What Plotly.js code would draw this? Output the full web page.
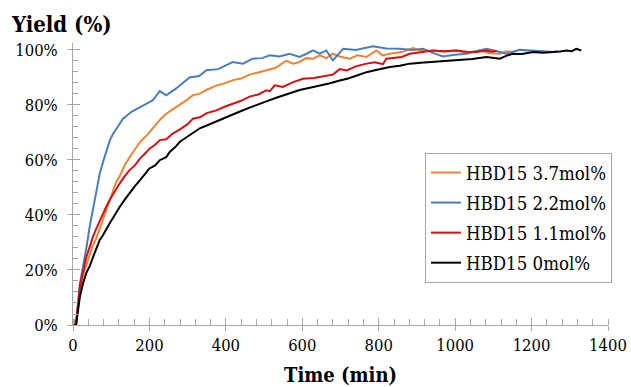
<!DOCTYPE html>
<html>
<head>
<meta charset="utf-8">
<script src="https://cdn.plot.ly/plotly-3.0.1.min.js"></script>
<style>html,body{margin:0;padding:0;background:#fff;}#chart{width:631px;height:387px;}</style>
</head>
<body>
<div id="chart"></div>
<script>
const seriesNames = ["HBD15 3.7mol%", "HBD15 2.2mol%", "HBD15 1.1mol%", "HBD15 0mol%"];
const tOrange = [0,4,8,18,26,35,44,52,61,70,78,87,96,105,113,122,135,148,162,175,190,200,215,230,244,260,279,300,314,332,350,375,400,419,440,462,485,506,530,558,576,593,610,628,646,663,680,700,724,745,768,794,810,829,860,890,915,942,970,1003,1030,1064,1090,1117,1135,1151];
const yOrange = [0,2,0.5,12,18,22,26,29,31.5,35,38,41.5,45,48.5,52,54,58,61,64,66.5,68.5,70,72.5,75,76.8,78.3,80,82,83.5,84.1,85.5,87,88,89,89.6,91,91.8,92.6,93.5,96,95,95.6,97,96.8,98,97,98.6,97.5,96.8,98,97.4,99.8,98,98.6,99.2,100.7,99.5,99.8,99.3,99.8,99,99.8,98.8,98.6,99.5,99.2];
const tBlue = [0,8,18,26,35,44,52,61,70,78,87,96,105,122,131,153,175,200,209,227,244,270,305,330,349,380,418,445,470,495,515,540,567,593,610,628,646,663,680,707,740,785,820,855,890,916,940,968,1000,1030,1055,1082,1110,1134,1169,1204,1230,1256,1268];
const yBlue = [0,0,15,21,28,36,42,48,55,59,63,67,69.5,73,75,77.5,79,81,81.7,85,83.5,86,90,90.5,92.6,93,95.6,95,96.8,97,98,97.6,98.6,97.4,98.5,99.8,98.6,99.8,96.2,100.4,100,101.3,100.5,100.4,100,100.4,99,97.6,98.2,98.6,99.5,100.4,99.5,98.6,100,99.8,99.5,99.2,99.5];
const tRed = [0,8,18,26,35,44,52,61,70,78,87,96,105,113,122,135,148,162,175,190,200,215,227,244,260,279,300,314,332,350,375,400,419,440,462,485,506,515,528,549,576,602,630,646,663,680,698,716,740,768,790,811,820,840,860,881,900,920,942,970,1003,1030,1056,1080,1095,1108];
const yRed = [0,0.5,14,19,24.8,28.5,32,35,38,40,43,45.4,47.5,49.5,51.4,54,56.3,58,60.5,62.5,64.1,65.5,67.2,67.5,69.5,71,73,75,75.5,77,78,79.5,80.5,81.5,83,83.8,85.3,85,87.1,86.5,88.3,89.5,89.8,90.1,90.5,91,93,92.5,94,95,95.5,94.8,96.8,97.2,97.4,98.6,98.9,99.3,99.8,99.5,99.8,99.3,99.2,99.8,99.3,99.6];
const tBlack = [0,8,18,26,35,44,52,61,70,78,87,96,105,113,122,135,148,162,175,190,200,215,227,244,253,270,279,300,315,332,350,375,400,419,440,462,485,506,530,550,576,593,620,646,670,698,720,745,768,790,810,829,855,881,910,942,975,1012,1045,1082,1100,1117,1135,1151,1175,1204,1230,1256,1275,1291,1305,1317,1330];
const yBlack = [0,0,10.3,15,19,21.5,24.5,28,30.9,32.5,35,37,39,41,42.9,45.5,48,50.5,52.6,55,56.9,58,59.9,61,62.9,65,66.5,68.5,70,71.5,72.5,74,75.5,76.8,77.8,79,80.3,81.3,82.5,83.4,84.5,85.4,86.2,87,87.8,88.9,89.6,90.8,91.9,92.6,93.2,93.8,94.2,95,95.3,95.6,95.8,96.2,96.7,97.4,97.2,96.8,97.9,98.6,98.5,99.2,99,99.2,99.4,99.8,99.5,100.4,99.8];
const xTicks = [0,200,400,600,800,1000,1200,1400];
const yTicks = [0,20,40,60,80,100];
const yTickLabels = ["0%","20%","40%","60%","80%","100%"];
const colors = ["#EE8433", "#4A7EBB", "#D40F14", "#000000"];
const font = "DejaVu Serif Condensed, DejaVu Serif";

const xs = [tOrange, tBlue, tRed, tBlack];
const ys = [yOrange, yBlue, yRed, yBlack];
const traces = seriesNames.map((n, i) => ({
  type: "scatter", mode: "lines", name: n, x: xs[i], y: ys[i],
  line: {color: colors[i], width: 2}, legendgroup: "g" + i
}));
traces.push({type:"scatter", mode:"lines", x:[0], y:[0], xaxis:"x2", yaxis:"y2", showlegend:false, hoverinfo:"skip", line:{width:0}});

const axisGray = "#A6A6A6";
const layout = {
  width: 631, height: 387,
  margin: {l: 73, r: 23, t: 43, b: 62},
  paper_bgcolor: "#fff", plot_bgcolor: "#fff",
  font: {family: font, color: "#000", size: 16.5},
  showlegend: true,
  title: {text: "<b>Yield (%)</b>", font: {family: font, size: 22, color: "#000"},
          xref: "container", yref: "container", x: 12/631, xanchor: "left", y: 1 - 24/387, yanchor: "middle"},
  xaxis: {
    range: [0, 1400], tickvals: xTicks, ticktext: xTicks.map(String),
    showline: true, linecolor: axisGray, linewidth: 1, showgrid: false, zeroline: false,
    ticks: "outside", ticklen: 5, tickcolor: axisGray, tickwidth: 1,
    minor: {dtick: 40, ticks: "inside", ticklen: 6, tickcolor: axisGray, showgrid: false},
    tickfont: {family: font, size: 16.5, color: "#000"},
    title: {text: "<b>Time (min)</b>", font: {family: font, size: 20, color: "#000"}, standoff: 14}
  },
  yaxis: {
    range: [0, 102.5], tickvals: yTicks, ticktext: yTickLabels,
    showline: true, linecolor: axisGray, linewidth: 1, showgrid: false, zeroline: false,
    ticks: "outside", ticklen: 5, tickcolor: axisGray, tickwidth: 1,
    minor: {dtick: 4, ticks: "inside", ticklen: 5, tickcolor: axisGray, showgrid: false},
    tickfont: {family: font, size: 16.5, color: "#000"},
    ticklabelstandoff: 6
  },
  xaxis2: {overlaying: "x", range: [0, 1400], tickvals: xTicks, showticklabels: false, showline: false,
           showgrid: false, zeroline: false, ticks: "inside", ticklen: 7, tickcolor: axisGray, tickwidth: 1},
  yaxis2: {overlaying: "y", range: [0, 102.5], tickvals: yTicks, showticklabels: false, showline: false,
           showgrid: false, zeroline: false, ticks: "inside", ticklen: 7, tickcolor: axisGray, tickwidth: 1},
  legend: {
    x: (425 - 73) / 535, xanchor: "left", y: 1 - (153 - 43) / 282, yanchor: "top",
    bordercolor: axisGray, borderwidth: 1, bgcolor: "#fff",
    font: {family: font, size: 18.5, color: "#000"}, tracegroupgap: 3
  }
};

Plotly.newPlot("chart", traces, layout, {displayModeBar: false, staticPlot: true});
</script>
</body>
</html>
